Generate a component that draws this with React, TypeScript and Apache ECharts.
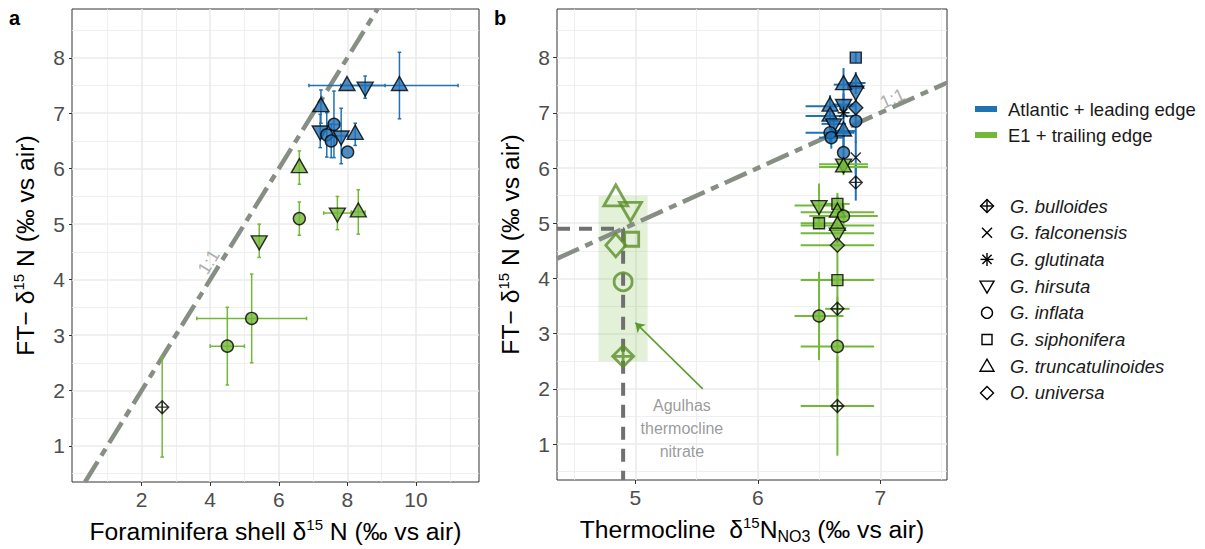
import React, { useEffect, useRef } from 'react';
import * as echarts from 'echarts';

const FONT = '"Liberation Sans", Arial, Helvetica, sans-serif';
const BLUE = '#2171B5';
const GREEN = '#74B83A';
const DARKGREEN = '#5B8F29';

const Y_MIN = 0.35;
const Y_MAX = 8.88;
const yTicks = [1, 2, 3, 4, 5, 6, 7, 8];
const yMinor = [0.5, 1.5, 2.5, 3.5, 4.5, 5.5, 6.5, 7.5, 8.5];

const aXMin = -0.03;
const aXMax = 11.84;
const aXTicks = [2, 4, 6, 8, 10];
const aXMinor = [1, 3, 5, 7, 9, 11];

const bXMin = 4.36;
const bXMax = 7.545;
const bXTicks = [5, 6, 7];
const bXMinor = [4.5, 5.5, 6.5, 7.5];

const groupNames = ['Atlantic + leading edge', 'E1 + trailing edge'];
const speciesNames = [
  'G. bulloides', 'G. falconensis', 'G. glutinata', 'G. hirsuta',
  'G. inflata', 'G. siphonifera', 'G. truncatulinoides', 'O. universa',
];

// Panel a : foraminifera shell d15N vs FT-d15N
const aGroup = ['atl', 'atl', 'atl', 'atl', 'atl', 'atl', 'atl', 'atl', 'atl', 'atl', 'atl',
  'e1', 'e1', 'e1', 'e1', 'e1', 'e1', 'e1', 'e1'];
const aSpecies = ['G. truncatulinoides', 'G. truncatulinoides', 'G. hirsuta', 'G. truncatulinoides', 'G. hirsuta',
  'G. inflata', 'G. inflata', 'G. inflata', 'G. hirsuta', 'G. truncatulinoides', 'G. inflata',
  'G. truncatulinoides', 'G. inflata', 'G. hirsuta', 'G. truncatulinoides', 'G. hirsuta',
  'G. inflata', 'G. inflata', 'G. bulloides'];
const aX = [7.99, 9.52, 8.52, 7.23, 7.21, 7.61, 7.40, 7.53, 7.82, 8.23, 8.01,
  6.60, 6.60, 7.71, 8.32, 5.43, 5.21, 4.50, 2.60];
const aY = [7.50, 7.50, 7.47, 7.12, 6.68, 6.80, 6.61, 6.50, 6.59, 6.62, 6.30,
  6.02, 5.10, 5.20, 5.22, 4.70, 3.30, 2.80, 1.70];
const aXErr = [1.11, 1.71, 0, 0, 0, 0.15, 0, 0, 0.2, 0, 0,
  0, 0, 0.4, 0.2, 0, 1.6, 0.5, 0];
const aYErr = [0, 0.6, 0.2, 0.3, 0.3, 0.6, 0.4, 0.3, 0.5, 0.2, 0,
  0.3, 0.3, 0.3, 0.4, 0.3, 0.8, 0.7, 0.9];

// Panel b : thermocline d15N-NO3 vs FT-d15N
const bGroup = ['atl', 'atl', 'atl', 'atl', 'atl', 'atl', 'atl', 'atl', 'atl', 'atl', 'atl', 'atl', 'atl', 'atl', 'atl', 'atl', 'atl',
  'e1', 'e1', 'e1', 'e1', 'e1', 'e1', 'e1', 'e1', 'e1', 'e1', 'e1', 'e1', 'e1', 'e1', 'e1'];
const bSpecies = ['G. siphonifera', 'G. truncatulinoides', 'G. hirsuta', 'G. truncatulinoides', 'G. hirsuta',
  'O. universa', 'G. inflata', 'G. glutinata', 'G. falconensis', 'G. truncatulinoides', 'G. truncatulinoides',
  'G. hirsuta', 'G. inflata', 'G. inflata', 'G. truncatulinoides', 'G. inflata', 'G. bulloides',
  'G. hirsuta', 'G. truncatulinoides', 'G. hirsuta', 'G. siphonifera', 'G. siphonifera', 'G. truncatulinoides',
  'G. inflata', 'G. truncatulinoides', 'G. hirsuta', 'O. universa', 'G. siphonifera', 'G. bulloides',
  'G. inflata', 'G. inflata', 'G. bulloides'];
const bX = [6.80, 6.80, 6.80, 6.70, 6.70, 6.80, 6.80, 6.70, 6.80, 6.59, 6.59,
  6.62, 6.59, 6.60, 6.70, 6.70, 6.80,
  6.70, 6.70, 6.50, 6.50, 6.65, 6.65, 6.70, 6.65, 6.65, 6.65, 6.65, 6.65,
  6.50, 6.65, 6.65];
const bY = [8.00, 7.54, 7.39, 7.51, 7.15, 7.09, 6.85, 7.00, 6.19, 7.12, 6.94,
  6.80, 6.64, 6.55, 6.67, 6.28, 5.74,
  6.07, 6.02, 5.32, 5.00, 5.35, 5.20, 5.13, 4.96, 4.82, 4.60, 3.97, 3.45,
  3.32, 2.77, 1.69];
const bXErr = [0, 0.08, 0, 0.08, 0.1, 0, 0, 0, 0, 0.2, 0.2,
  0.1, 0.2, 0.1, 0.1, 0, 0,
  0.2, 0.2, 0.2, 0.15, 0.1, 0.3, 0.28, 0.3, 0.3, 0.3, 0.3, 0.1,
  0.2, 0.3, 0.3];
const bYErr = [0.1, 0.2, 0, 0.3, 0.2, 0, 0.4, 0, 0.3, 0.2, 0.2,
  0.2, 0.2, 0.2, 0.3, 0.3, 0.33,
  0.1, 0.15, 0.4, 0, 0.2, 0.3, 0.2, 0, 0, 0, 0.5, 0.1,
  0.8, 0.9, 0.9];

// Agulhas thermocline nitrate (open symbols)
const agSpecies = ['G. truncatulinoides', 'G. hirsuta', 'G. siphonifera', 'O. universa', 'G. inflata', 'G. bulloides'];
const agX = [4.84, 4.96, 4.97, 4.84, 4.90, 4.90];
const agY = [5.45, 5.26, 4.71, 4.60, 3.94, 2.59];
const agulhasNitrate = 4.9;
const agulhasBand = [4.7, 5.1, 2.5, 5.5];

const SHAPES: Record<string, any> = {
  'G. bulloides': { symbol: 'path://M0,-10L10,0L0,10L-10,0ZM0,-10L0,10M-10,0L10,0', size: 13, open: true },
  'G. falconensis': { symbol: 'path://M-10,-10L10,10M-10,10L10,-10', size: 10, open: true },
  'G. glutinata': { symbol: 'path://M-10,0L10,0M0,-10L0,10M-7,-7L7,7M-7,7L7,-7', size: 12, open: true },
  'G. hirsuta': { symbol: 'triangle', size: [16, 14], rotate: 180, offset: [0, 2] },
  'G. inflata': { symbol: 'circle', size: 12 },
  'G. siphonifera': { symbol: 'rect', size: 11 },
  'G. truncatulinoides': { symbol: 'triangle', size: [16, 14], offset: [0, -2] },
  'O. universa': { symbol: 'diamond', size: [14, 14] },
};

const AG_SIZE: Record<string, any> = {
  'G. truncatulinoides': [24, 21],
  'G. hirsuta': [22, 19],
  'G. siphonifera': 14,
  'O. universa': [20, 23],
  'G. inflata': 18,
  'G. bulloides': 21,
};

function pointItem(x: number, y: number, sp: string, grp: string) {
  const s = SHAPES[sp];
  const col = grp === 'atl' ? BLUE : GREEN;
  return {
    value: [x, y],
    symbol: s.symbol,
    symbolSize: s.size,
    symbolRotate: s.rotate || 0,
    symbolOffset: s.offset || [0, 0],
    itemStyle: {
      color: s.open ? 'rgba(0,0,0,0)' : col,
      borderColor: '#000',
      borderWidth: 1.4,
    },
  };
}

function agItem(x: number, y: number, sp: string) {
  const s = SHAPES[sp];
  const off = s.offset ? [0, s.offset[1] * 1.5] : [0, 0];
  return {
    value: [x, y],
    symbol: s.symbol,
    symbolSize: AG_SIZE[sp],
    symbolRotate: s.rotate || 0,
    symbolOffset: off,
    itemStyle: { color: 'rgba(0,0,0,0)', borderColor: DARKGREEN, borderWidth: 2.8 },
  };
}

function errorBars(idx: number, data: number[][], caps: boolean, lw: number) {
  return {
    type: 'custom',
    xAxisIndex: idx,
    yAxisIndex: idx,
    z: 4,
    silent: true,
    encode: { x: 0, y: 1 },
    data,
    renderItem: (params: any, api: any) => {
      const x = api.value(0);
      const y = api.value(1);
      const xe = api.value(2);
      const ye = api.value(3);
      const color = api.value(4) === 0 ? BLUE : GREEN;
      const style = { stroke: color, lineWidth: lw };
      const children: any[] = [];
      const cw = 1.8;
      if (ye > 0) {
        const p1 = api.coord([x, y - ye]);
        const p2 = api.coord([x, y + ye]);
        children.push({ type: 'line', shape: { x1: p1[0], y1: p1[1], x2: p2[0], y2: p2[1] }, style });
        if (caps) {
          children.push({ type: 'line', shape: { x1: p1[0] - cw, y1: p1[1], x2: p1[0] + cw, y2: p1[1] }, style });
          children.push({ type: 'line', shape: { x1: p2[0] - cw, y1: p2[1], x2: p2[0] + cw, y2: p2[1] }, style });
        }
      }
      if (xe > 0) {
        const p1 = api.coord([x - xe, y]);
        const p2 = api.coord([x + xe, y]);
        children.push({ type: 'line', shape: { x1: p1[0], y1: p1[1], x2: p2[0], y2: p2[1] }, style });
        if (caps) {
          children.push({ type: 'line', shape: { x1: p1[0], y1: p1[1] - cw, x2: p1[0], y2: p1[1] + cw }, style });
          children.push({ type: 'line', shape: { x1: p2[0], y1: p2[1] - cw, x2: p2[0], y2: p2[1] + cw }, style });
        }
      }
      return { type: 'group', children };
    },
  };
}

function gridLines(idx: number, xMajor: number[], xMinor: number[], xMin: number, extra: any = {}) {
  const major = { color: '#EBEBEB', width: 1.6, type: 'solid' };
  const minor = { color: '#EBEBEB', width: 0.8, type: 'solid' };
  return {
    type: 'scatter',
    xAxisIndex: idx,
    yAxisIndex: idx,
    silent: true,
    z: 1,
    symbolSize: 0,
    itemStyle: { color: 'rgba(0,0,0,0)' },
    data: [[xMin, Y_MIN]],
    markLine: {
      silent: true,
      z: 1,
      symbol: ['none', 'none'],
      label: { show: false },
      emphasis: { disabled: true },
      data: [
        ...xMinor.map((v) => ({ xAxis: v, lineStyle: minor })),
        ...yMinor.map((v) => ({ yAxis: v, lineStyle: minor })),
        ...xMajor.map((v) => ({ xAxis: v, lineStyle: major })),
        ...yTicks.map((v) => ({ yAxis: v, lineStyle: major })),
      ],
    },
    ...extra,
  };
}

const titleRich = {
  t: { fontSize: 24.7, color: '#000', fontFamily: FONT },
  sup: { fontSize: 15, color: '#000', fontFamily: FONT, padding: [0, 0, 14, 0] },
  sub: { fontSize: 16, color: '#000', fontFamily: FONT, padding: [13, 0, 0, 0] },
};

function xAxisCfg(idx: number, min: number, max: number, ticks: number[], name: string) {
  return {
    type: 'value', gridIndex: idx, min, max,
    axisLine: { show: false },
    axisTick: { show: true, length: 4, lineStyle: { color: '#333', width: 1 }, customValues: ticks },
    axisLabel: { customValues: ticks, color: '#4D4D4D', fontSize: 21, fontFamily: FONT, margin: 7 },
    splitLine: { show: false },
    name, nameLocation: 'middle', nameGap: 35,
    nameTextStyle: { fontSize: 24.7, color: '#000', fontFamily: FONT, rich: titleRich },
  };
}

function yAxisCfg(idx: number) {
  return {
    type: 'value', gridIndex: idx, min: Y_MIN, max: Y_MAX,
    axisLine: { show: false },
    axisTick: { show: true, length: 4, lineStyle: { color: '#333', width: 1 }, customValues: yTicks },
    axisLabel: { customValues: yTicks, color: '#4D4D4D', fontSize: 21, fontFamily: FONT, margin: 7 },
    splitLine: { show: false },
    name: '{t|FT− δ}{sup|15}{t| N (‰ vs air)}',
    nameLocation: 'middle', nameGap: 32, nameRotate: 90,
    nameTextStyle: { fontSize: 24.7, color: '#000', fontFamily: FONT, rich: titleRich },
  };
}

function legendGraphics() {
  const els: any[] = [];
  const gcol = [BLUE, GREEN];
  groupNames.forEach((g, i) => {
    const cy = 109 + i * 26;
    els.push({ type: 'rect', shape: { x: 975, y: cy - 3, width: 22, height: 6 }, style: { fill: gcol[i] } });
    els.push({ type: 'text', x: 1008, y: cy, style: { text: g, fontSize: 18.5, fontFamily: FONT, fill: '#1A1A1A', verticalAlign: 'middle' } });
  });
  const st = { fill: 'none', stroke: '#000', lineWidth: 1.4 };
  const cx = 987;
  speciesNames.forEach((sp, i) => {
    const cy = 206 + i * 26.7;
    const r = 6.5;
    if (sp === 'G. bulloides') {
      els.push({ type: 'polygon', shape: { points: [[cx, cy - r], [cx + r, cy], [cx, cy + r], [cx - r, cy]] }, style: st });
      els.push({ type: 'line', shape: { x1: cx, y1: cy - r, x2: cx, y2: cy + r }, style: st });
      els.push({ type: 'line', shape: { x1: cx - r, y1: cy, x2: cx + r, y2: cy }, style: st });
    } else if (sp === 'G. falconensis') {
      const q = 5;
      els.push({ type: 'line', shape: { x1: cx - q, y1: cy - q, x2: cx + q, y2: cy + q }, style: st });
      els.push({ type: 'line', shape: { x1: cx - q, y1: cy + q, x2: cx + q, y2: cy - q }, style: st });
    } else if (sp === 'G. glutinata') {
      const q = 6.5;
      const d = 4.6;
      els.push({ type: 'line', shape: { x1: cx - q, y1: cy, x2: cx + q, y2: cy }, style: st });
      els.push({ type: 'line', shape: { x1: cx, y1: cy - q, x2: cx, y2: cy + q }, style: st });
      els.push({ type: 'line', shape: { x1: cx - d, y1: cy - d, x2: cx + d, y2: cy + d }, style: st });
      els.push({ type: 'line', shape: { x1: cx - d, y1: cy + d, x2: cx + d, y2: cy - d }, style: st });
    } else if (sp === 'G. hirsuta') {
      els.push({ type: 'polygon', shape: { points: [[cx - 7, cy - 5], [cx + 7, cy - 5], [cx, cy + 7]] }, style: st });
    } else if (sp === 'G. inflata') {
      els.push({ type: 'circle', shape: { cx, cy, r: 5.5 }, style: st });
    } else if (sp === 'G. siphonifera') {
      els.push({ type: 'rect', shape: { x: cx - 5, y: cy - 5, width: 10, height: 10 }, style: st });
    } else if (sp === 'G. truncatulinoides') {
      els.push({ type: 'polygon', shape: { points: [[cx - 7, cy + 5], [cx + 7, cy + 5], [cx, cy - 7]] }, style: st });
    } else {
      els.push({ type: 'polygon', shape: { points: [[cx, cy - r], [cx + r, cy], [cx, cy + r], [cx - r, cy]] }, style: st });
    }
    els.push({ type: 'text', x: 1010, y: cy, style: { text: sp, fontSize: 18.5, fontStyle: 'italic', fontFamily: FONT, fill: '#1A1A1A', verticalAlign: 'middle' } });
  });
  els.push({ type: 'text', x: 9, y: 8, style: { text: 'a', fontSize: 20, fontWeight: 'bold', fontFamily: FONT, fill: '#000' } });
  els.push({ type: 'text', x: 494, y: 8, style: { text: 'b', fontSize: 20, fontWeight: 'bold', fontFamily: FONT, fill: '#000' } });
  return els;
}

export default function App() {
  const ref = useRef<HTMLDivElement>(null);
  useEffect(() => {
    if (!ref.current) return;
    const chart = echarts.init(ref.current, null, { renderer: 'svg' });

    const aErr = aX.map((x, i) => [x, aY[i], aXErr[i], aYErr[i], aGroup[i] === 'atl' ? 0 : 1]);
    const bErr = bX.map((x, i) => [x, bY[i], bXErr[i], bYErr[i], bGroup[i] === 'atl' ? 0 : 1]);
    const aPts = aX.map((x, i) => pointItem(x, aY[i], aSpecies[i], aGroup[i]));
    const bPts = bX.map((x, i) => pointItem(x, bY[i], bSpecies[i], bGroup[i]));
    const agPts = agX.map((x, i) => agItem(x, agY[i], agSpecies[i]));

    const lineStyle11 = { color: '#878F85', width: 4.5, type: [24, 7, 8, 7] };
    const labelStyle11 = { fontSize: 18, color: '#999999', fontFamily: FONT };

    const option: any = {
      animation: false,
      backgroundColor: '#fff',
      grid: [
        { left: 72, top: 9, width: 407, height: 474, show: true, backgroundColor: '#fff', borderColor: '#333', borderWidth: 1 },
        { left: 557, top: 9, width: 390, height: 474, show: true, backgroundColor: '#fff', borderColor: '#333', borderWidth: 1 },
      ],
      xAxis: [
        xAxisCfg(0, aXMin, aXMax, aXTicks, '{t|Foraminifera shell δ}{sup|15}{t| N (‰ vs air)}'),
        xAxisCfg(1, bXMin, bXMax, bXTicks, '{t|Thermocline  δ}{sup|15}{t|N}{sub|NO3}{t| (‰ vs air)}'),
      ],
      yAxis: [yAxisCfg(0), yAxisCfg(1)],
      graphic: legendGraphics(),
      series: [
        gridLines(0, aXTicks, aXMinor, aXMin),
        gridLines(1, bXTicks, bXMinor, bXMin, {
          markArea: {
            silent: true,
            z: 2,
            itemStyle: { color: 'rgba(116,184,58,0.2)' },
            data: [[{ coord: [agulhasBand[0], agulhasBand[2]] }, { coord: [agulhasBand[1], agulhasBand[3]] }]],
          },
        }),
        {
          type: 'line', xAxisIndex: 0, yAxisIndex: 0, z: 3, silent: true, symbol: 'none',
          lineStyle: lineStyle11,
          data: [[Y_MIN, Y_MIN], [Y_MAX, Y_MAX]],
        },
        {
          type: 'line', xAxisIndex: 1, yAxisIndex: 1, z: 3, silent: true, symbol: 'none',
          lineStyle: { color: '#707070', width: 4, type: [13, 9] },
          data: [[bXMin, agulhasNitrate], [agulhasNitrate, agulhasNitrate], [agulhasNitrate, Y_MIN]],
        },
        {
          type: 'line', xAxisIndex: 1, yAxisIndex: 1, z: 3, silent: true, symbol: 'none',
          lineStyle: lineStyle11,
          data: [[bXMin, bXMin], [bXMax, bXMax]],
        },
        errorBars(0, aErr, true, 1.5),
        errorBars(1, bErr, false, 2),
        { type: 'scatter', xAxisIndex: 0, yAxisIndex: 0, z: 5, silent: true, data: aPts },
        { type: 'scatter', xAxisIndex: 1, yAxisIndex: 1, z: 5, silent: true, data: bPts },
        { type: 'scatter', xAxisIndex: 1, yAxisIndex: 1, z: 5, silent: true, data: agPts },
        {
          type: 'scatter', xAxisIndex: 0, yAxisIndex: 0, z: 6, silent: true, symbolSize: 1,
          itemStyle: { color: 'rgba(0,0,0,0)' },
          label: { show: true, position: 'inside', formatter: '1:1', rotate: 58.4, ...labelStyle11 },
          data: [[3.96, 4.32]],
        },
        {
          type: 'scatter', xAxisIndex: 1, yAxisIndex: 1, z: 6, silent: true, symbolSize: 1,
          itemStyle: { color: 'rgba(0,0,0,0)' },
          label: { show: true, position: 'inside', formatter: '1:1', rotate: 24.4, ...labelStyle11 },
          data: [[7.10, 7.26]],
        },
        {
          type: 'scatter', xAxisIndex: 1, yAxisIndex: 1, z: 6, silent: true, symbolSize: 1,
          itemStyle: { color: 'rgba(0,0,0,0)' },
          label: {
            show: true, position: 'inside', formatter: 'Agulhas\nthermocline\nnitrate',
            fontSize: 16, lineHeight: 23, color: '#7F7F7F', fontFamily: FONT, align: 'center',
          },
          data: [[5.38, 1.29]],
          markLine: {
            silent: true,
            z: 6,
            symbol: ['none', 'arrow'],
            symbolSize: 9,
            label: { show: false },
            lineStyle: { color: '#5B9A2E', width: 1.5, type: 'solid' },
            data: [[{ coord: [5.55, 2.0] }, { coord: [5.0, 3.2] }]],
          },
        },
      ],
    };
    chart.setOption(option);
    return () => chart.dispose();
  }, []);
  return <div ref={ref} style={{ position: 'fixed', left: 0, top: 0, width: 1205, height: 549 }} />;
}
